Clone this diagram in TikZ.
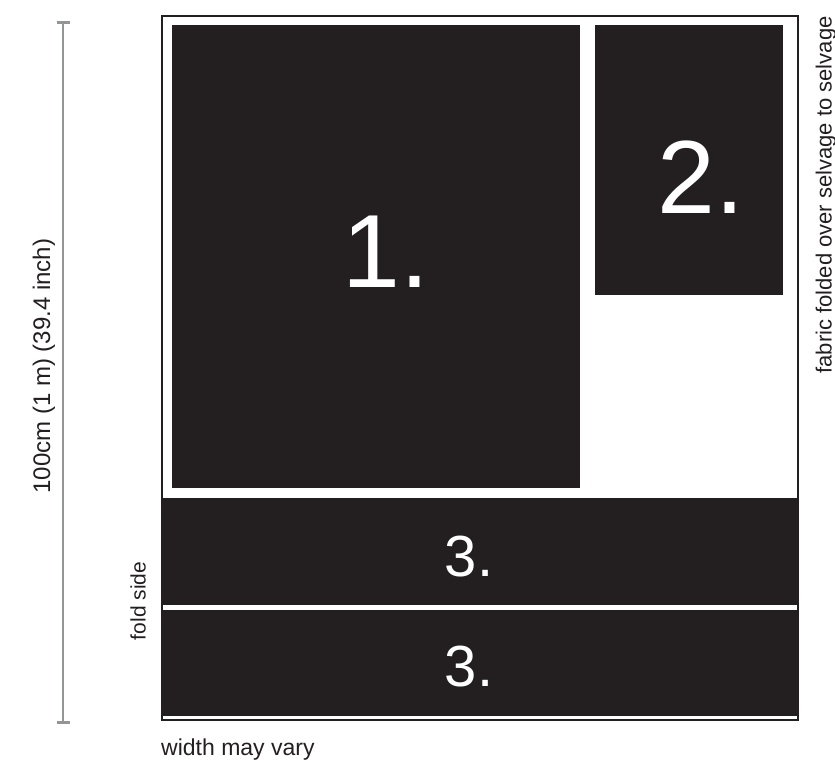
\documentclass[tikz,border=0pt]{standalone}
\usepackage{fontspec}
\setmainfont{Liberation Sans}
\usetikzlibrary{arrows.meta, positioning}
\definecolor{fabricblack}{HTML}{231F20}
\definecolor{dimgray}{HTML}{939598}
\tikzset{
    cut_piece/.style={
        rectangle,
        fill=fabricblack,
        inner sep=0pt,
        outer sep=0pt,
        anchor=north west
    },
    big_num/.style={
        text=white,
        inner sep=0pt,
        anchor=base,
        font=\fontsize{104}{110}\selectfont
    },
    strip_num/.style={
        text=white,
        inner sep=0pt,
        anchor=base,
        font=\fontsize{58}{64}\selectfont
    },
    fabric_edge/.style={
        draw=fabricblack,
        line width=2.4pt
    },
    dim_line/.style={
        {Bar[width=13pt]}-{Bar[width=13pt]},
        draw=dimgray,
        line width=2.6pt
    },
    side_label/.style={
        text=fabricblack,
        inner sep=0pt,
        font=\fontsize{21}{25}\selectfont
    }
}

\begin{document}
\begin{tikzpicture}[x=1pt, y=-1pt]
\useasboundingbox (0,0) rectangle (835,764);

% Fabric outline
\coordinate (fabricNW) at (162,16);
\coordinate (fabricSE) at (798,720);
\draw[fabric_edge] (fabricNW) rectangle (fabricSE);

% Cut pieces
\node[cut_piece, minimum width=408pt, minimum height=463pt] (piece1) at (172,25) {};
\node[cut_piece, minimum width=188pt, minimum height=270pt] (piece2) at (595,25) {};
\node[cut_piece, minimum width=636pt, minimum height=107pt] (strip3a) at (162,498) {};
\node[cut_piece, minimum width=636pt, minimum height=106pt] (strip3b) at (162,610) {};

% Piece numbers
\node[big_num] (num1) at ([xshift=10pt, yshift=-30.5pt]piece1.center) {1.};
\node[big_num] (num2) at ([xshift=12pt, yshift=-53pt]piece2.center) {2.};
\node[strip_num] (num3a) at ([xshift=-11pt, yshift=-25pt]strip3a.center) {3.};
\node[strip_num] (num3b) at ([xshift=-11pt, yshift=-23pt]strip3b.center) {3.};

% Height dimension
\coordinate (dimTop) at (63,21);
\coordinate (dimBot) at (63,724);
\draw[dim_line] (dimTop) -- (dimBot);

% Labels
\node[side_label, rotate=90, font=\fontsize{24}{28}\selectfont] (heightLabel) at (44,366) {100cm (1 m) (39.4 inch)};
\node[side_label, rotate=90, font=\fontsize{22}{26}\selectfont] (selvageLabel) at (826,195) {fabric folded over selvage to selvage};
\node[side_label, rotate=90] (foldLabel) at (138,601) {fold side};
\node[side_label, anchor=base west, font=\fontsize{23}{27}\selectfont] (widthLabel) at (161,755) {width may vary};

\end{tikzpicture}
\end{document}
